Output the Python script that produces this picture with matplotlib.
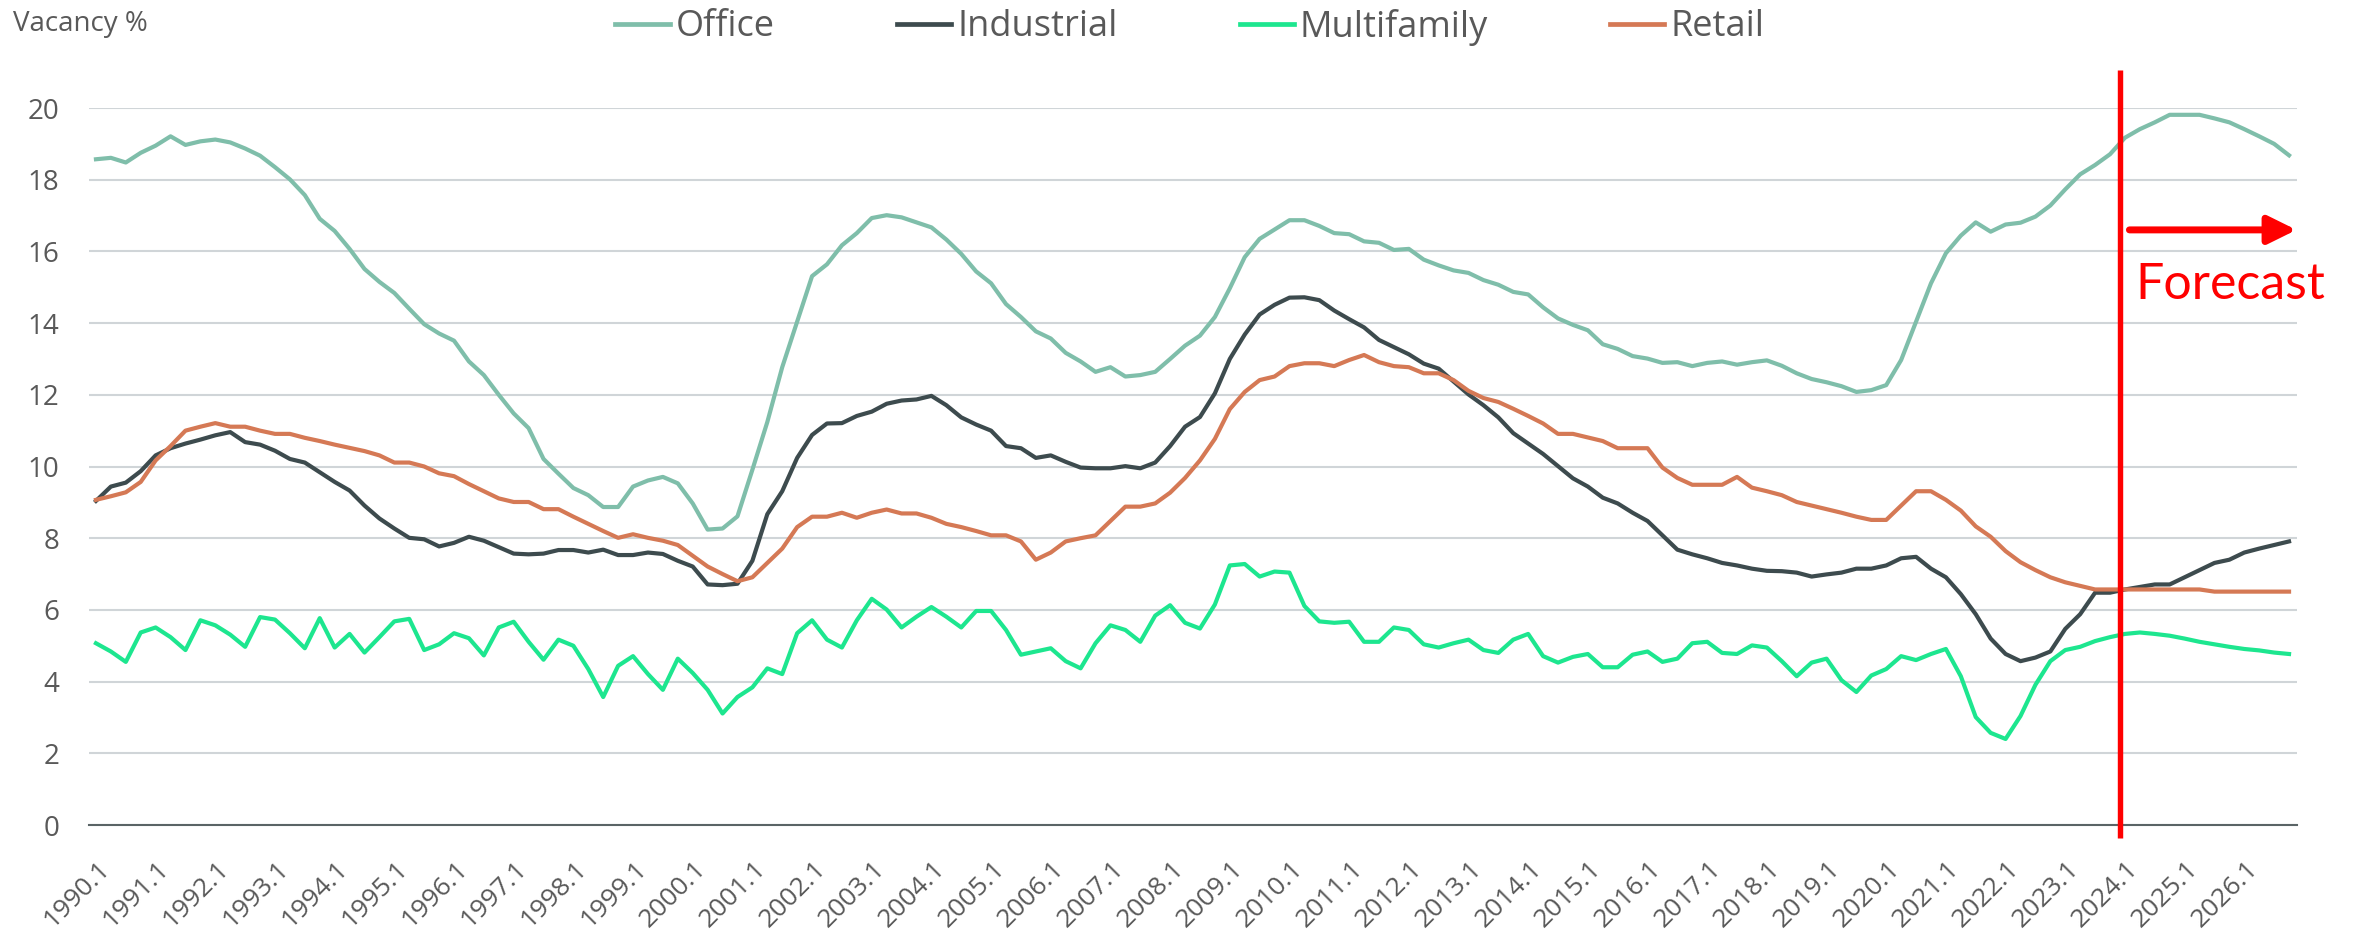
import matplotlib
matplotlib.use("Agg")
import matplotlib.pyplot as plt
import matplotlib.transforms as mtransforms

# quarterly vacancy rates, 1990.1 .. 2026.4 (forecast from 2024.1)
years = list(range(1990, 2027))
quarters = [f"{y}.{q}" for y in years for q in (1, 2, 3, 4)]

office = [
    18.57, 18.61, 18.48, 18.75, 18.95, 19.21, 18.97, 19.07, 19.12, 19.04,
    18.87, 18.67, 18.35, 18.01, 17.57, 16.91, 16.57, 16.07, 15.51, 15.15,
    14.84, 14.40, 13.97, 13.71, 13.51, 12.93, 12.55, 12.00, 11.48, 11.07,
    10.21, 9.80, 9.40, 9.20, 8.87, 8.87, 9.44, 9.61, 9.71, 9.53,
    8.97, 8.24, 8.27, 8.61, 9.91, 11.24, 12.77, 14.04, 15.31, 15.64,
    16.17, 16.51, 16.93, 17.01, 16.95, 16.81, 16.67, 16.33, 15.93, 15.44,
    15.11, 14.53, 14.17, 13.77, 13.57, 13.17, 12.93, 12.64, 12.77, 12.51,
    12.55, 12.64, 13.00, 13.37, 13.65, 14.17, 14.97, 15.84, 16.35, 16.61,
    16.87, 16.87, 16.71, 16.51, 16.48, 16.28, 16.24, 16.04, 16.07, 15.77,
    15.61, 15.47, 15.40, 15.20, 15.07, 14.87, 14.80, 14.44, 14.13, 13.95,
    13.80, 13.41, 13.28, 13.08, 13.01, 12.89, 12.91, 12.80, 12.89, 12.93,
    12.84, 12.91, 12.96, 12.81, 12.60, 12.44, 12.35, 12.24, 12.08, 12.13,
    12.27, 12.97, 14.04, 15.11, 15.95, 16.44, 16.81, 16.55, 16.75, 16.80,
    16.97, 17.28, 17.73, 18.15, 18.41, 18.71, 19.17, 19.41, 19.60, 19.81,
    19.81, 19.81, 19.71, 19.60, 19.41, 19.21, 19.00, 18.68,
]
industrial = [
    9.04, 9.44, 9.55, 9.87, 10.31, 10.51, 10.64, 10.75, 10.87, 10.96,
    10.68, 10.61, 10.44, 10.21, 10.11, 9.84, 9.57, 9.33, 8.91, 8.55,
    8.27, 8.01, 7.97, 7.77, 7.87, 8.04, 7.93, 7.75, 7.57, 7.55,
    7.57, 7.67, 7.67, 7.60, 7.68, 7.53, 7.53, 7.60, 7.56, 7.37,
    7.21, 6.71, 6.69, 6.73, 7.37, 8.67, 9.31, 10.24, 10.88, 11.20,
    11.21, 11.41, 11.53, 11.75, 11.84, 11.87, 11.97, 11.71, 11.37, 11.17,
    11.00, 10.57, 10.51, 10.24, 10.31, 10.13, 9.97, 9.95, 9.95, 10.01,
    9.95, 10.11, 10.57, 11.11, 11.38, 12.04, 13.00, 13.68, 14.24, 14.51,
    14.71, 14.72, 14.64, 14.35, 14.11, 13.88, 13.53, 13.33, 13.13, 12.87,
    12.73, 12.37, 12.01, 11.71, 11.37, 10.93, 10.64, 10.35, 10.01, 9.67,
    9.44, 9.13, 8.97, 8.71, 8.48, 8.08, 7.68, 7.55, 7.44, 7.31,
    7.24, 7.15, 7.09, 7.08, 7.04, 6.93, 6.99, 7.04, 7.15, 7.15,
    7.24, 7.44, 7.48, 7.15, 6.91, 6.44, 5.88, 5.20, 4.77, 4.57,
    4.67, 4.84, 5.47, 5.88, 6.48, 6.48, 6.57, 6.64, 6.71, 6.71,
    6.91, 7.11, 7.31, 7.40, 7.60, 7.71, 7.81, 7.91,
]
multifamily = [
    5.07, 4.84, 4.55, 5.37, 5.51, 5.24, 4.88, 5.71, 5.57, 5.31,
    4.97, 5.80, 5.73, 5.35, 4.93, 5.77, 4.95, 5.33, 4.81, 5.24,
    5.68, 5.75, 4.88, 5.04, 5.35, 5.21, 4.73, 5.51, 5.67, 5.11,
    4.61, 5.17, 5.00, 4.35, 3.57, 4.44, 4.71, 4.21, 3.77, 4.64,
    4.24, 3.77, 3.11, 3.57, 3.84, 4.37, 4.21, 5.35, 5.71, 5.17,
    4.95, 5.71, 6.31, 6.01, 5.51, 5.81, 6.08, 5.81, 5.51, 5.97,
    5.97, 5.44, 4.75, 4.84, 4.93, 4.57, 4.37, 5.07, 5.57, 5.44,
    5.11, 5.84, 6.13, 5.64, 5.48, 6.15, 7.24, 7.28, 6.93, 7.07,
    7.04, 6.11, 5.68, 5.64, 5.67, 5.11, 5.11, 5.51, 5.44, 5.04,
    4.95, 5.07, 5.17, 4.88, 4.80, 5.17, 5.33, 4.71, 4.53, 4.69,
    4.77, 4.40, 4.40, 4.75, 4.84, 4.55, 4.64, 5.07, 5.11, 4.80,
    4.77, 5.01, 4.95, 4.57, 4.15, 4.53, 4.64, 4.04, 3.71, 4.17,
    4.35, 4.71, 4.60, 4.77, 4.91, 4.15, 3.01, 2.57, 2.40, 3.04,
    3.91, 4.57, 4.88, 4.97, 5.13, 5.24, 5.33, 5.37, 5.33, 5.28,
    5.20, 5.11, 5.04, 4.97, 4.91, 4.87, 4.81, 4.77,
]
retail = [
    9.07, 9.17, 9.28, 9.57, 10.17, 10.57, 11.00, 11.11, 11.21, 11.11,
    11.11, 11.00, 10.91, 10.91, 10.80, 10.71, 10.61, 10.52, 10.43, 10.31,
    10.11, 10.11, 10.00, 9.81, 9.73, 9.51, 9.31, 9.11, 9.01, 9.01,
    8.81, 8.81, 8.60, 8.40, 8.20, 8.01, 8.11, 8.01, 7.93, 7.81,
    7.51, 7.21, 7.00, 6.80, 6.91, 7.31, 7.71, 8.31, 8.60, 8.60,
    8.71, 8.57, 8.71, 8.80, 8.69, 8.69, 8.57, 8.40, 8.31, 8.20,
    8.08, 8.08, 7.91, 7.40, 7.60, 7.91, 8.00, 8.08, 8.48, 8.88,
    8.88, 8.97, 9.27, 9.68, 10.17, 10.77, 11.60, 12.08, 12.41, 12.51,
    12.80, 12.88, 12.88, 12.80, 12.97, 13.11, 12.91, 12.80, 12.77, 12.60,
    12.60, 12.41, 12.11, 11.91, 11.80, 11.61, 11.41, 11.20, 10.91, 10.91,
    10.81, 10.71, 10.51, 10.51, 10.51, 9.97, 9.68, 9.49, 9.49, 9.49,
    9.71, 9.41, 9.31, 9.20, 9.01, 8.91, 8.81, 8.71, 8.60, 8.51,
    8.51, 8.91, 9.31, 9.31, 9.07, 8.77, 8.33, 8.04, 7.64, 7.33,
    7.11, 6.91, 6.77, 6.67, 6.57, 6.57, 6.57, 6.57, 6.57, 6.57,
    6.57, 6.57, 6.51, 6.51, 6.51, 6.51, 6.51, 6.51,
]

series = [
    ("Office", office, "#7fbeaa"),
    ("Industrial", industrial, "#3d4b4e"),
    ("Multifamily", multifamily, "#1de68f"),
    ("Retail", retail, "#d57955"),
]
yticks = [0, 2, 4, 6, 8, 10, 12, 14, 16, 18, 20]
forecast_at = 135.7  # just before 2024.1
text_color = "#595959"

plt.rcParams["font.family"] = ["Open Sans", "DejaVu Sans"]

W, H = 2361, 933
fig = plt.figure(figsize=(W / 100, H / 100), dpi=100)
ax = fig.add_axes([88.5 / W, 1 - 825 / H, (2296.5 - 88.5) / W, (825 - 108) / H])

x = list(range(len(quarters)))
handles = []
for name, vals, col in series:
    h, = ax.plot(x, vals, color=col, lw=3.0, solid_joinstyle="round", zorder=3, label=name)
    handles.append(h)

ax.set_xlim(-0.5, len(quarters) - 0.5)
ax.set_ylim(0, 20)
ax.set_yticks(yticks)
ax.set_yticklabels([str(v) for v in yticks])
ax.yaxis.grid(True, color="#d0d5d8", lw=1.5, zorder=0)
ax.set_axisbelow(True)
for s in ("top", "right", "left"):
    ax.spines[s].set_visible(False)
ax.spines["bottom"].set_color("#5a6466")
ax.spines["bottom"].set_linewidth(1.5)
ax.spines["bottom"].set_zorder(2)

ax.tick_params(axis="y", length=0, pad=21, labelsize=20, labelcolor=text_color)
ax.tick_params(axis="x", length=0, pad=29, labelsize=19, labelcolor=text_color)
tick_idx = x[::4]
ax.set_xticks(tick_idx)
ax.set_xticklabels([quarters[i] for i in tick_idx])
shift = mtransforms.ScaledTranslation(10 / 100, 0, fig.dpi_scale_trans)
for lab in ax.get_xticklabels():
    lab.set_rotation(45)
    lab.set_rotation_mode("anchor")
    lab.set_ha("right")
    lab.set_va("center")
    lab.set_transform(lab.get_transform() + shift)

# forecast marker
ax.plot([forecast_at, forecast_at], [-0.36, 21.06], color="red", lw=3.9,
        zorder=5, clip_on=False, solid_capstyle="butt")
ax.annotate("", xy=(147.5, 16.6), xytext=(136.3, 16.6),
            arrowprops=dict(arrowstyle="-|>,head_length=0.85,head_width=0.42",
                            color="red", lw=5, shrinkA=0, shrinkB=0,
                            mutation_scale=20),
            annotation_clip=False, zorder=5)
ax.text(136.7, 14.67, "Forecast", color="red", fontsize=36, family="Lato",
        ha="left", va="baseline", zorder=5)

fig.text(13 / W, 1 - 31 / H, "Vacancy %", fontsize=20, color=text_color,
         ha="left", va="baseline")

leg = fig.legend(handles=handles, loc="center", bbox_to_anchor=(1190 / W, 1 - 27 / H),
                 ncol=4, frameon=False, fontsize=26, handlelength=1.5,
                 handletextpad=0.17, columnspacing=3.38, borderpad=0)
for t in leg.get_texts():
    t.set_color(text_color)
for l in leg.get_lines():
    l.set_linewidth(3.4)

fig.savefig("out.png", dpi=100)
